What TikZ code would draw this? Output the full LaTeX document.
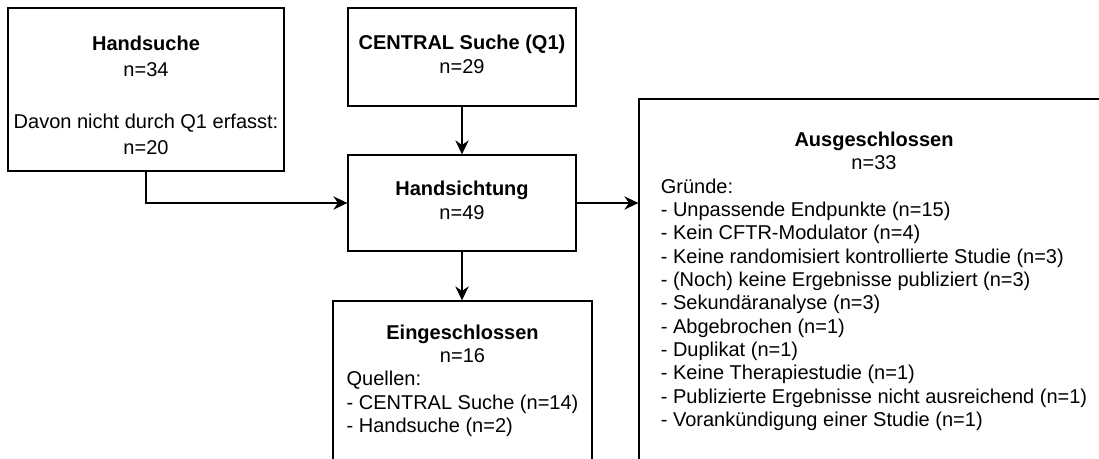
\documentclass[tikz,border=0pt]{standalone}
\usepackage{fontspec}
\setmainfont{Liberation Sans}
\usetikzlibrary{arrows.meta}
\tikzset{
  box/.style={draw, line width=1pt, inner sep=0pt, font=\fontsize{15}{17.5}\selectfont},
  txt/.style={inner sep=0pt, font=\fontsize{15}{19.5}\selectfont},
  arr/.style={-{Stealth[length=10.5pt,width=10pt,inset=3.5pt]}, line width=1pt}
}
\begin{document}
\begin{tikzpicture}[x=0.75pt,y=-0.75pt]
	\useasboundingbox (0,0) rectangle (1099,459);
	\clip (0,0) rectangle (1099,459);
	\node[box, minimum width=207pt, minimum height=122.25pt] (hand) at (146,89.5) {};
	\node[txt] (handtxt) at (146,97) {\begin{tabular}{@{}c@{}}\textbf{Handsuche}\\ n=34\\ \\ Davon nicht durch Q1 erfasst:\\ n=20\end{tabular}};
	\node[box, minimum width=171pt, minimum height=73.5pt] (central) at (462,57)
		{\begin{tabular}{@{}c@{}}\textbf{CENTRAL Suche (Q1)}\\ n=29\end{tabular}};
	\node[box, minimum width=171pt, minimum height=72pt] (sicht) at (462,203)
		{\begin{tabular}{@{}c@{}}\textbf{Handsichtung}\\ n=49\end{tabular}};
	\node[box, minimum width=194.25pt, minimum height=120pt] (ein) at (462.5,381)
		{\begin{tabular}{@{}l@{}}\multicolumn{1}{@{}c@{}}{\textbf{Eingeschlossen}}\\
		\multicolumn{1}{@{}c@{}}{n=16}\\ Quellen:\\ - CENTRAL Suche (n=14)\\ - Handsuche (n=2)\end{tabular}};
	\node[box, minimum width=352.5pt, minimum height=274.5pt] (aus) at (874,282)
		{\begin{tabular}{@{}l@{}}\multicolumn{1}{@{}c@{}}{\textbf{Ausgeschlossen}}\\
		\multicolumn{1}{@{}c@{}}{n=33}\\ Gründe:\\
		- Unpassende Endpunkte (n=15)\\
		- Kein CFTR-Modulator (n=4)\\
		- Keine randomisiert kontrollierte Studie (n=3)\\
		- (Noch) keine Ergebnisse publiziert (n=3)\\
		- Sekundäranalyse (n=3)\\
		- Abgebrochen (n=1)\\
		- Duplikat (n=1)\\
		- Keine Therapiestudie (n=1)\\
		- Publizierte Ergebnisse nicht ausreichend (n=1)\\
		- Vorankündigung einer Studie (n=1)\end{tabular}};
	\draw[arr] (hand.south) |- (sicht.west);
	\draw[arr] (central) -- (sicht);
	\draw[arr] (sicht.south) -- (sicht.south |- ein.north);
	\draw[arr] (sicht.east) -- (sicht.east -| aus.west);
\end{tikzpicture}
\end{document}
